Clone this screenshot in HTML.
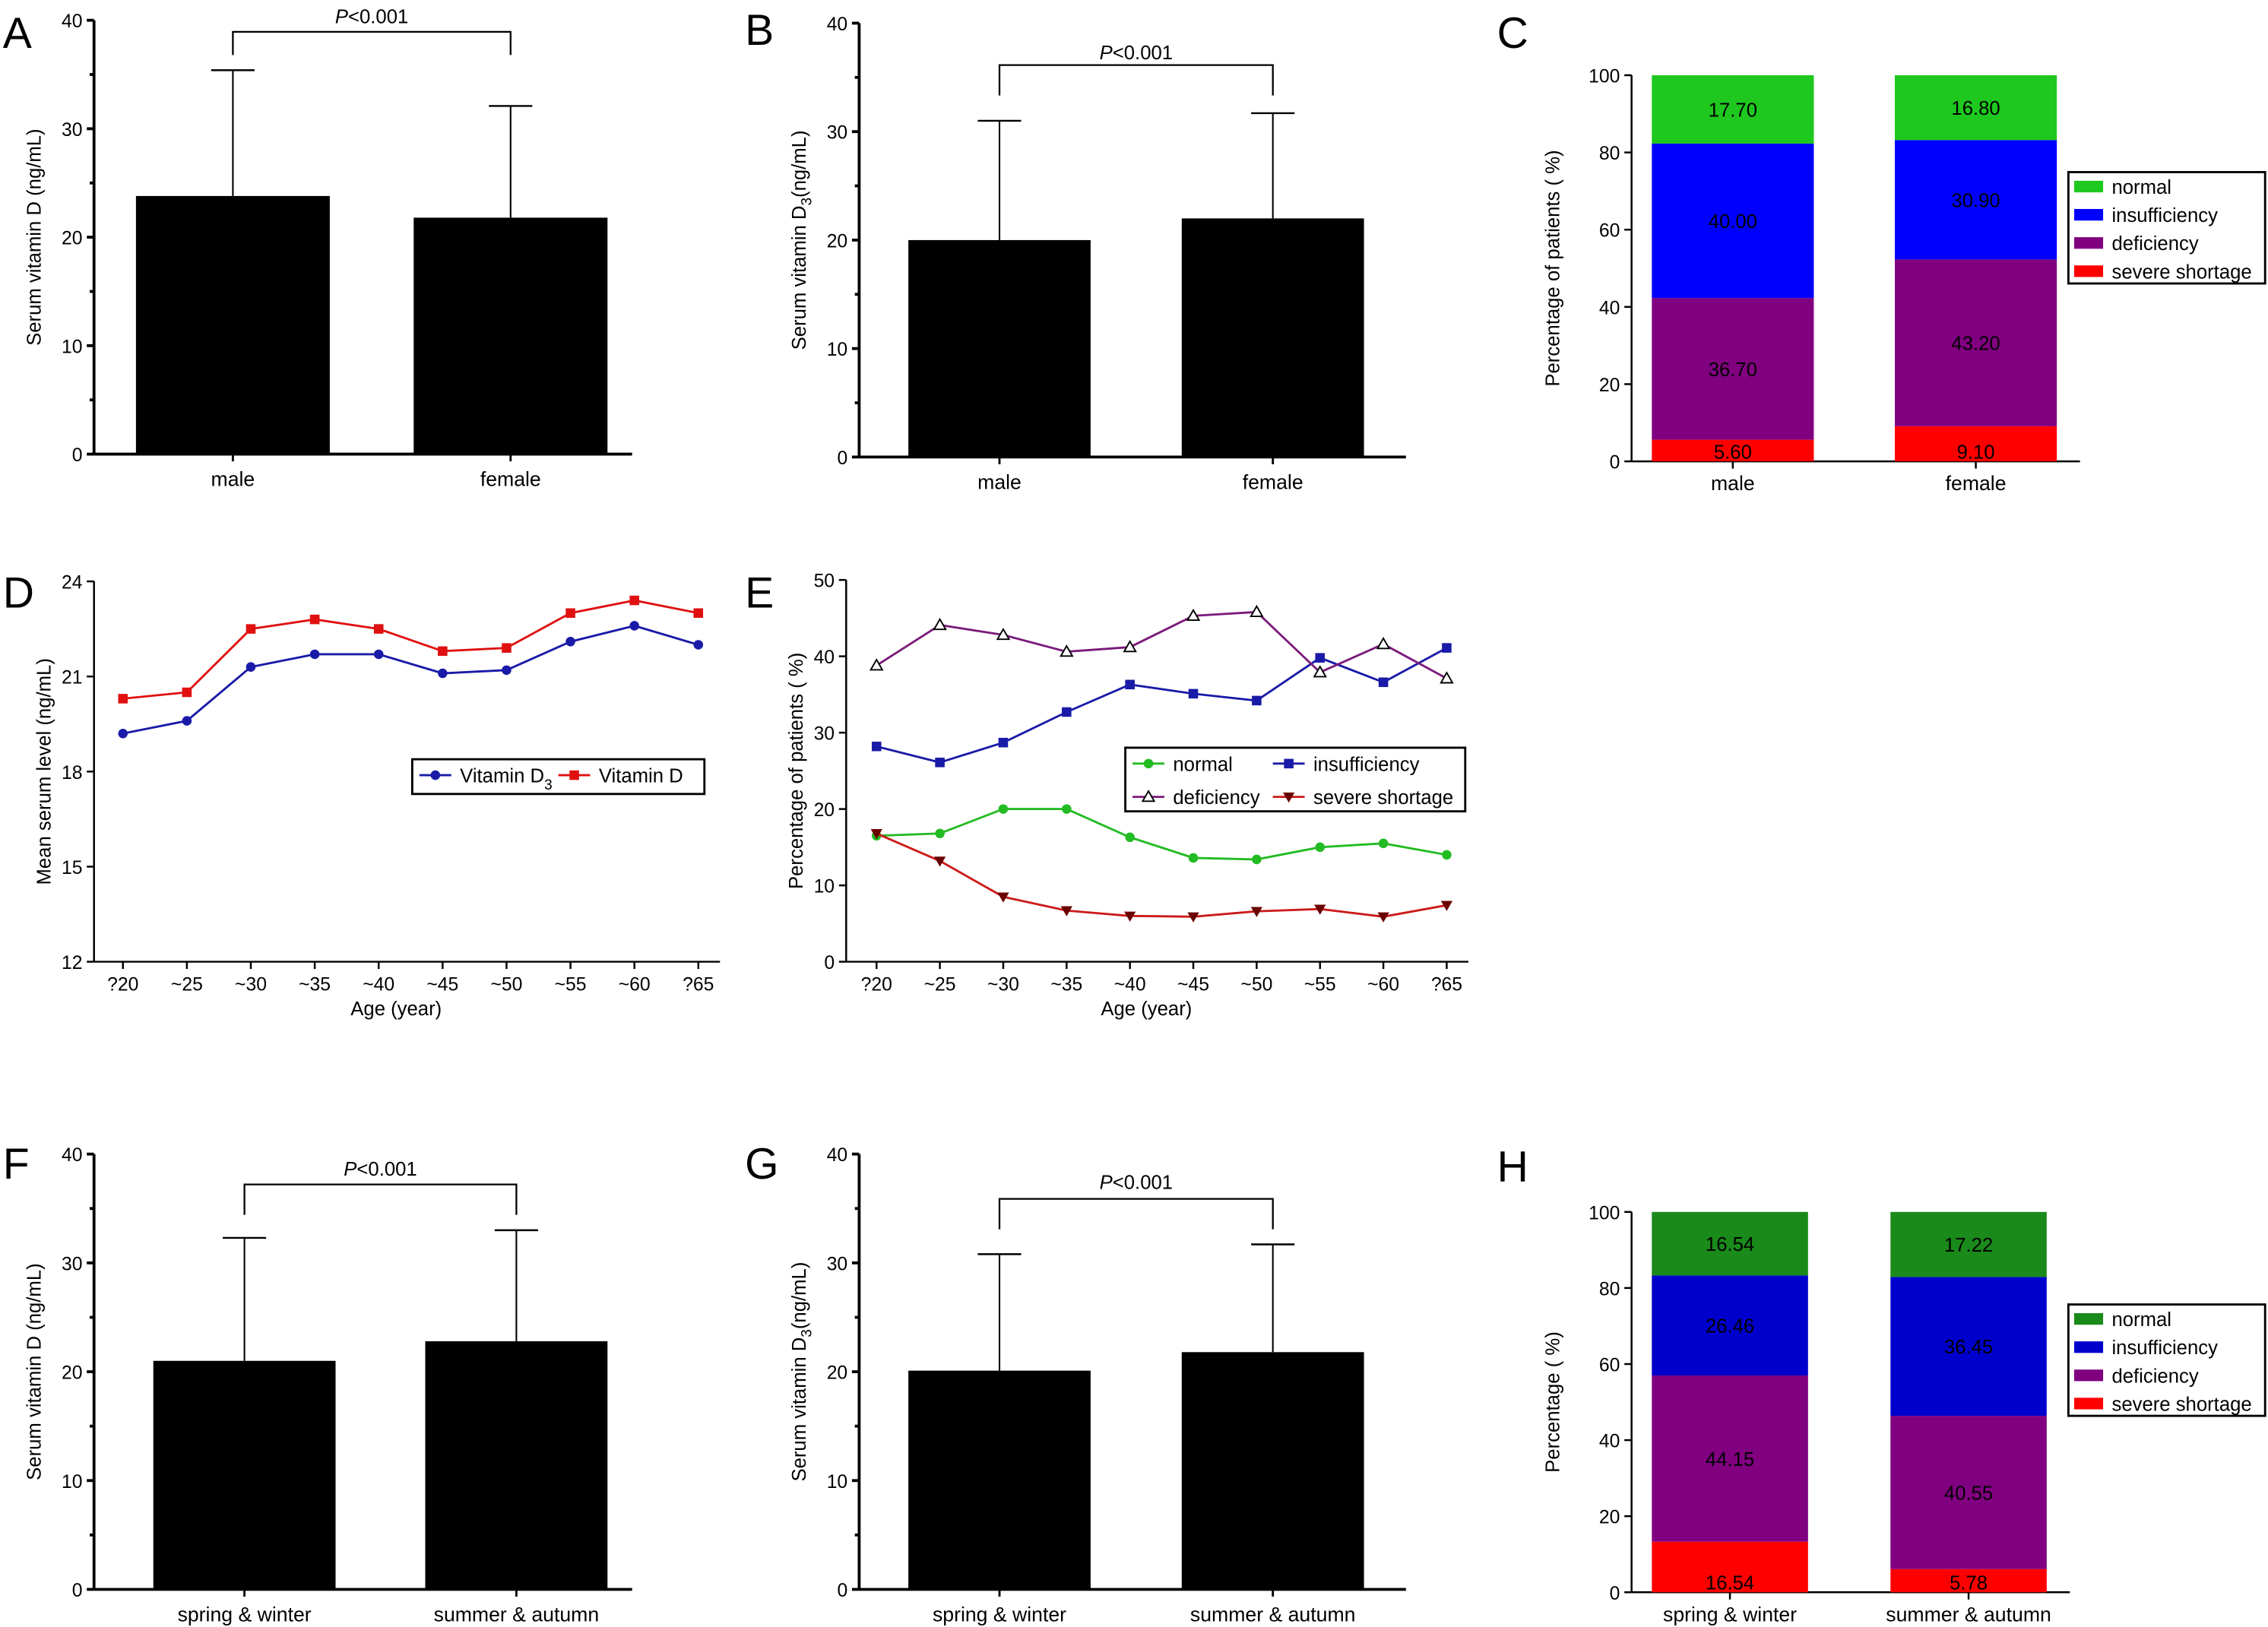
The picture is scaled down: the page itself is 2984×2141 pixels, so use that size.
<!DOCTYPE html>
<html><head><meta charset="utf-8">
<style>
html,body{margin:0;padding:0;background:#fff;}
svg{display:block;font-family:"Liberation Sans",Arial,sans-serif;}
</style></head>
<body>
<svg id="fig" width="2984" height="2141" viewBox="0 0 1568 1125" xmlns="http://www.w3.org/2000/svg"></svg>
<script>
// ---------- data ----------
const sexCats = ["male","female"];
const seasonCats = ["spring & winter","summer & autumn"];
const vitDSex = [23.8, 21.8];
const vitDSexErr = [35.4, 32.1];
const vitD3Sex = [20, 22];
const vitD3SexErr = [31, 31.7];
const vitDSeason = [21, 22.8];
const vitDSeasonErr = [32.3, 33.0];
const vitD3Season = [20.1, 21.8];
const vitD3SeasonErr = [30.8, 31.7];
const stackSeries = ["severe shortage","deficiency","insufficiency","normal"];
const cMale = [5.6, 36.7, 40.0, 17.7];
const cFemale = [9.1, 43.2, 30.9, 16.8];
const hSpring = [13.3, 43.7, 26.3, 16.7];
const hSummer = [6.1, 40.3, 36.5, 17.1];
const hSpringLabels = ["16.54","44.15","26.46","16.54"];
const hSummerLabels = ["5.78","40.55","36.45","17.22"];
const ageCats = ["?20","~25","~30","~35","~40","~45","~50","~55","~60","?65"];
const meanD3 = [19.2,19.6,21.3,21.7,21.7,21.1,21.2,22.1,22.6,22.0];
const meanD = [20.3,20.5,22.5,22.8,22.5,21.8,21.9,23.0,23.4,23.0];
const pctNormal = [16.5,16.8,20,20,16.3,13.6,13.4,15,15.5,14];
const pctInsuff = [28.2,26.1,28.7,32.7,36.3,35.1,34.2,39.8,36.6,41.1];
const pctDefic = [38.8,44.1,42.8,40.6,41.2,45.3,45.8,37.9,41.6,37.1];
const pctSevere = [16.8,13.2,8.5,6.7,6.0,5.9,6.6,6.9,5.9,7.4];
const ticks40 = [0,10,20,30,40];
const minor40 = [5,15,25,35];
const ticks100 = [0,20,40,60,80,100];
const ticksD = [12,15,18,21,24];
const ticksE = [0,10,20,30,40,50];

const svg = document.getElementById('fig');
const NS = "http://www.w3.org/2000/svg";
function el(tag, attrs, parent, text){
  const e = document.createElementNS(NS, tag);
  for (const k in attrs) e.setAttribute(k, attrs[k]);
  if (text !== undefined) e.textContent = text;
  (parent||svg).appendChild(e);
  return e;
}
function txt(x,y,s,size,anchor,parent){
  return el('text', {x:x,y:y,'font-size':size,'text-anchor':anchor||'middle',fill:'#000'}, parent, s);
}

function yAxis(g, x, y0, y1, ticks, vmin, vmax, title, titleX, sub, minor, sw){
  const sc = v => y0 - (v - vmin) / (vmax - vmin) * (y0 - y1);
  const w = sw || 1.3;
  const ax = el('line',{x1:x,y1:y0,x2:x,y2:y1,stroke:'#000','stroke-width':w},g);
  
  
  ticks.forEach(v=>{
    el('line',{x1:x-5,y1:sc(v),x2:x,y2:sc(v),stroke:'#000','stroke-width':w},g);
    const t = txt(x-8, sc(v)+5, String(v), 13, 'end', g);
    
    
  });
  (minor||[]).forEach(v=>{
    el('line',{x1:x-3,y1:sc(v),x2:x,y2:sc(v),stroke:'#000','stroke-width':w},g);
  });
  const cy = (y0+y1)/2;
  const tt = el('text',{x:0,y:0,'font-size':13.5,'text-anchor':'middle',transform:`translate(${titleX},${cy}) rotate(-90)`},g);
  
  
  if (sub) {
    tt.appendChild(document.createTextNode(title[0]));
    el('tspan',{dy:4,'font-size':10},tt,sub);
    el('tspan',{dy:-4},tt,title[1]);
  } else tt.textContent = title;
  return sc;
}

function barPanel(letter, lx, ly, ax, y0, y1, xEnd, cats, vals, errs, centers, barW, title, sub, bracketY, bracketDrop, pY){
  const g = el('g',{});
  
  
  const L = txt(lx, ly, letter, 30, 'start', g);
  
  
  const sc = yAxis(g, ax, y0, y1, ticks40, 0, 40, title, ax-37, sub, minor40, 2);
  const xa = el('line',{x1:ax,y1:y0,x2:xEnd,y2:y0,stroke:'#000','stroke-width':2},g);
  
  
  vals.forEach((v,i)=>{
    const cx = centers[i], x = cx - barW/2;
    const b = el('rect',{x:x,y:sc(v),width:barW,height:y0-sc(v),fill:'#000'},g);
    
    
    const e1 = el('line',{x1:cx,y1:sc(v),x2:cx,y2:sc(errs[i]),stroke:'#000','stroke-width':1.1},g);
    
    
    const cap = el('line',{x1:cx-15,y1:sc(errs[i]),x2:cx+15,y2:sc(errs[i]),stroke:'#000','stroke-width':1.3},g);
    
    
    el('line',{x1:cx,y1:y0,x2:cx,y2:y0+5,stroke:'#000','stroke-width':1.5},g);
    const c = txt(cx, y0+22, cats[i], 14, 'middle', g);
    
    
  });
  const br = el('path',{d:`M${centers[0]},${bracketY+bracketDrop} V${bracketY} H${centers[1]} V${bracketY+bracketDrop}`,fill:'none',stroke:'#000','stroke-width':1.2},g);
  
  
  const p = el('text',{x:(centers[0]+centers[1])/2,y:pY,'font-size':13.5,'text-anchor':'middle'},g);
  
  
  el('tspan',{'font-style':'italic'},p,'P');
  p.appendChild(document.createTextNode('<0.001'));
}

barPanel('A',2,33,65,314,14,437,sexCats,vitDSex,vitDSexErr,[161,353],134,'Serum vitamin D (ng/mL)',null,22,16,16);
barPanel('B',515,31,594,316,16,972,sexCats,vitD3Sex,vitD3SexErr,[691,880],126,['Serum vitamin D','(ng/mL)'],'3',45,21,41);
barPanel('F',2,815,65,1099,798,437,seasonCats,vitDSeason,vitDSeasonErr,[169,357],126,'Serum vitamin D (ng/mL)',null,819,21,813);
barPanel('G',515,815,594,1099,798,972,seasonCats,vitD3Season,vitD3SeasonErr,[691,880],126,['Serum vitamin D','(ng/mL)'],'3',829,21,822);

function stackPanel(letter, lx, ly, ax, y0, y1, cats, data, labels, barX, barW, colors, title, legY){
  const g = el('g',{});
  
  
  const L = txt(lx, ly, letter, 30, 'start', g);
  
  
  const sc = yAxis(g, ax, y0, y1, ticks100, 0, 100, title, ax-50);
  const xa = el('line',{x1:ax,y1:y0,x2:barX[1]+barW+16,y2:y0,stroke:'#000','stroke-width':1.3},g);
  
  
  data.forEach((arr,i)=>{
    let acc = 0;
    arr.forEach((v,j)=>{
      const top = sc(acc+v), bot = sc(acc);
      const r = el('rect',{x:barX[i],y:top,width:barW,height:bot-top,fill:colors[j]},g);
      
      
      const ly2 = j===0 ? bot-2 : (top+bot)/2+5;
      const t = txt(barX[i]+barW/2, ly2, labels[i][j], 13.5, 'middle', g);
      
      
      acc += v;
    });
    const cx = barX[i]+barW/2;
    el('line',{x1:cx,y1:y0,x2:cx,y2:y0+5,stroke:'#000','stroke-width':1.3},g);
    const c = txt(cx, y0+20, cats[i], 14, 'middle', g);
    
    
  });
  const lg = el('g',{},g);
  
  
  el('rect',{x:1430,y:legY,width:136,height:77,fill:'#fff',stroke:'#000','stroke-width':1.5},lg);
  [3,2,1,0].forEach((j,k)=>{
    const yy = legY+10+k*19.5;
    const s = el('rect',{x:1434,y:yy-4,width:20,height:8,fill:colors[j]},lg);
    
    
    const t = txt(1460, yy+5, stackSeries[j], 13.5, 'start', lg);
    
    
  });
}
stackPanel('C',1035,33,1128,319,52,sexCats,[cMale,cFemale],[cMale.map(v=>v.toFixed(2)),cFemale.map(v=>v.toFixed(2))],[1142,1310],112,['#ff0000','#800080','#0000ff','#1ec81e'],'Percentage of patients ( %)',119);
stackPanel('H',1035,817,1128,1101,838,seasonCats,[hSpring,hSummer],[hSpringLabels,hSummerLabels],[1142,1307],108,['#ff0000','#800080','#0000cc','#1a8a1a'],'Percentage ( %)',902);

function linePanel(letter, lx, ly, ax, y0, y1, ticks, vmin, vmax, x0, dx, series, title, legend){
  const g = el('g',{});
  
  
  const L = txt(lx, ly, letter, 30, 'start', g);
  
  
  const sc = yAxis(g, ax, y0, y1, ticks, vmin, vmax, title, ax-30);
  const xs = i => x0 + i*dx;
  const xa = el('line',{x1:ax,y1:y0,x2:xs(9)+15,y2:y0,stroke:'#000','stroke-width':1.3},g);
  
  
  ageCats.forEach((c,i)=>{
    el('line',{x1:xs(i),y1:y0,x2:xs(i),y2:y0+5,stroke:'#000','stroke-width':1.3},g);
    const t = txt(xs(i), y0+20, c, 13, 'middle', g);
    
    
  });
  const xt = txt((ax+xs(9))/2, y0+37, 'Age (year)', 13.5, 'middle', g);
  
  
  series.forEach(s=>{
    const pts = s.vals.map((v,i)=>xs(i)+','+sc(v)).join(' ');
    const pl = el('polyline',{points:pts,fill:'none',stroke:s.color,'stroke-width':1.5},g);
    
    
    s.vals.forEach((v,i)=>marker(g,s,xs(i),sc(v)));
  });
  const lg = el('g',{},g);
  
  
  el('rect',{x:legend.x,y:legend.y,width:legend.w,height:legend.h,fill:'#fff',stroke:'#000','stroke-width':1.5},lg);
  legend.items.forEach(it=>{
    const s = series[it.i];
    el('line',{x1:it.x,y1:it.y,x2:it.x+22,y2:it.y,stroke:s.color,'stroke-width':1.5},lg);
    marker(lg,s,it.x+11,it.y);
    const t = el('text',{x:it.x+28,y:it.y+5,'font-size':13.5},lg,it.label);
    if (it.sub){ el('tspan',{dy:5,'font-size':10},t,it.sub); }
    
    
  });
}
function marker(g,s,x,y){
  let m;
  if (s.shape==='circle') m = el('circle',{cx:x,cy:y,r:3.3,fill:s.color},g);
  else if (s.shape==='square') m = el('rect',{x:x-3.3,y:y-3.3,width:6.6,height:6.6,fill:s.color},g);
  else if (s.shape==='tri') m = el('path',{d:`M${x},${y-4} L${x+4},${y+3} L${x-4},${y+3}Z`,fill:'#fff',stroke:'#000','stroke-width':1},g);
  else m = el('path',{d:`M${x},${y+4} L${x+4},${y-3} L${x-4},${y-3}Z`,fill:'#6b0000'},g);
  
  
}
linePanel('D',2,420,65,665,402,ticksD,12,24,85,44.2,
  [{name:'vitamin-d3',vals:meanD3,color:'#1a1aa8',shape:'circle'},{name:'vitamin-d',vals:meanD,color:'#e01010',shape:'square'}],
  'Mean serum level (ng/mL)',
  {x:285,y:525,w:202,h:24,items:[{i:0,x:290,y:536,label:'Vitamin D',sub:'3'},{i:1,x:386,y:536,label:'Vitamin D'}]});
linePanel('E',515,420,585,665,401,ticksE,0,50,606,43.8,
  [{name:'normal',vals:pctNormal,color:'#22bb22',shape:'circle'},{name:'insufficiency',vals:pctInsuff,color:'#1a1aa8',shape:'square'},
   {name:'deficiency',vals:pctDefic,color:'#7a1a7a',shape:'tri'},{name:'severe shortage',vals:pctSevere,color:'#cc1a1a',shape:'inv'}],
  'Percentage of patients  ( %)',
  {x:778,y:517,w:235,h:44,items:[{i:0,x:783,y:528,label:'normal'},{i:1,x:880,y:528,label:'insufficiency'},{i:2,x:783,y:551,label:'deficiency'},{i:3,x:880,y:551,label:'severe shortage'}]});
</script>
</body></html>
